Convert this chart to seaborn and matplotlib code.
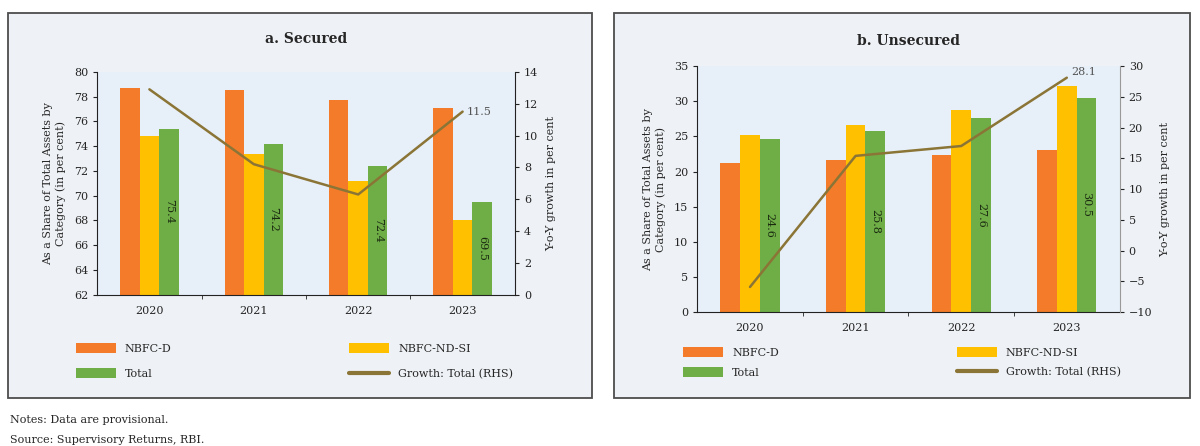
import numpy as np
import pandas as pd
import matplotlib.pyplot as plt
import seaborn as sns
from matplotlib.patches import Rectangle, Patch
from matplotlib.lines import Line2D

# data
years = ['2020', '2021', '2022', '2023']
categories = ['NBFC-D', 'NBFC-ND-SI', 'Total']

sec_nbfc_d = [78.7, 78.5, 77.7, 77.1]
sec_nbfc_ndsi = [74.8, 73.4, 71.2, 68.0]
sec_total = [75.4, 74.2, 72.4, 69.5]
sec_growth = [12.9, 8.2, 6.3, 11.5]

unsec_nbfc_d = [21.2, 21.6, 22.4, 23.1]
unsec_nbfc_ndsi = [25.2, 26.6, 28.8, 32.1]
unsec_total = [24.6, 25.8, 27.6, 30.5]
unsec_growth = [-5.9, 15.4, 17.0, 28.1]

colors = ['#F47B2A', '#FFC000', '#6FAD47']
line_color = '#8B7536'
panel_bg = '#EEF1F5'
plot_bg = '#E7EFF8'

sns.set_style('white')
plt.rcParams['font.family'] = ['DejaVu Serif']
plt.rcParams['font.size'] = 8

fig = plt.figure(figsize=(12, 4.46), dpi=100)

# panel boxes (behind the axes)
for x0, w in [(0.007, 0.486), (0.512, 0.480)]:
    fig.patches.append(Rectangle((x0, 0.108), w, 0.863, transform=fig.transFigure,
                                 facecolor=panel_bg, edgecolor='#4d4d4d', lw=1.3, zorder=-5))


def draw_panel(ax, title, d, ndsi, total, growth, ylim, yticks, y2lim, y2ticks,
               growth_offset, right_spine_col, title_pad):
    df = pd.DataFrame({'Year': years * 3,
                       'Category': np.repeat(categories, len(years)),
                       'Value': d + ndsi + total})
    sns.barplot(data=df, x='Year', y='Value', hue='Category', palette=colors,
                width=0.56, saturation=1, ax=ax, legend=False, linewidth=0)
    ax.set_facecolor(plot_bg)
    ax.set_ylim(ylim)
    ax.set_yticks(yticks)
    ax.set_xlabel('')
    ax.set_ylabel('As a Share of Total Assets by\nCategory (in per cent)', fontsize=8, labelpad=6)
    ax.set_title(title, fontsize=10, fontweight='bold', pad=title_pad)
    for s in ['left', 'bottom']:
        ax.spines[s].set_color('#222222')
    ax.spines['top'].set_visible(False)
    ax.spines['right'].set_visible(False)
    ax.tick_params(axis='x', length=0, pad=8, labelsize=8)
    ax.tick_params(axis='y', length=3, labelsize=8, left=True, color='#222222')
    ax.set_xticks([0.5, 1.5, 2.5], minor=True)
    ax.tick_params(axis='x', which='minor', length=3, bottom=True, color='#222222')

    # value labels inside the Total bars
    for rect, v in zip(ax.containers[2], total):
        ax.text(rect.get_x() + rect.get_width() / 2, (ylim[0] + v) / 2, f'{v:.1f}',
                rotation=270, ha='center', va='center', fontsize=8, color='#1a2a10')

    ax2 = ax.twinx()
    sns.lineplot(x=np.arange(len(years)), y=growth, color=line_color, lw=1.8, ax=ax2)
    ax2.set_ylim(y2lim)
    ax2.set_yticks(y2ticks)
    ax2.set_ylabel('Y-o-Y growth in per cent', fontsize=8, labelpad=6)
    ax2.tick_params(axis='y', length=3, labelsize=8, color='#222222')
    ax2.spines['top'].set_visible(False)
    ax2.spines['left'].set_visible(False)
    ax2.spines['bottom'].set_visible(False)
    ax2.spines['right'].set_color(right_spine_col)
    ax2.annotate(f'{growth[-1]:.1f}', (len(years) - 1, growth[-1]), xytext=growth_offset,
                 textcoords='offset points', fontsize=8, color='#555555', va='center')
    ax.set_xlim(-0.5, len(years) - 0.5)
    return ax2


ax_a = fig.add_axes([0.081, 0.339, 0.348, 0.500])
draw_panel(ax_a, 'a. Secured', sec_nbfc_d, sec_nbfc_ndsi, sec_total, sec_growth,
           (62, 80), range(62, 81, 2), (0, 14), range(0, 15, 2), (3, 0), '#222222', 21)

ax_b = fig.add_axes([0.581, 0.300, 0.352, 0.552])
draw_panel(ax_b, 'b. Unsecured', unsec_nbfc_d, unsec_nbfc_ndsi, unsec_total, unsec_growth,
           (0, 35), range(0, 36, 5), (-10, 30), range(-10, 31, 5), (3, 4), '#999999', 15)

handles = [Patch(facecolor=colors[0], edgecolor='none', label='NBFC-D'),
           Patch(facecolor=colors[2], edgecolor='none', label='Total'),
           Patch(facecolor=colors[1], edgecolor='none', label='NBFC-ND-SI'),
           Line2D([0], [0], color=line_color, lw=3, label='Growth: Total (RHS)')]

fig.legend(handles=handles, loc='upper left', bbox_to_anchor=(0.055, 0.253), ncol=2,
           frameon=False, fontsize=8, handlelength=3.6, handleheight=1.0,
           columnspacing=16, labelspacing=1.3)
fig.legend(handles=handles, loc='upper left', bbox_to_anchor=(0.561, 0.244), ncol=2,
           frameon=False, fontsize=8, handlelength=3.6, handleheight=1.0,
           columnspacing=16, labelspacing=0.8)

fig.text(0.008, 1 - 420 / 446, 'Notes: Data are provisional.', fontsize=8, va='center')
fig.text(0.008, 1 - 440 / 446, 'Source: Supervisory Returns, RBI.', fontsize=8, va='center')

fig.savefig('out.png', dpi=100, facecolor='white')
